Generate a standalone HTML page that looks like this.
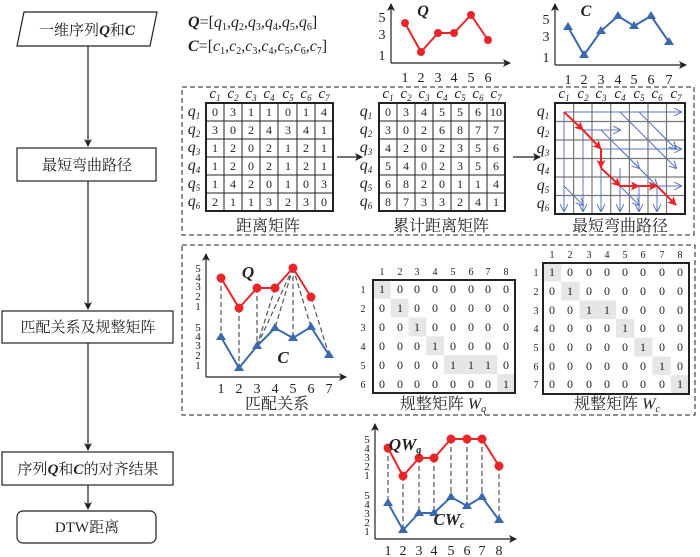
<!DOCTYPE html>
<html><head><meta charset="utf-8"><style>
html,body{margin:0;padding:0;background:#fff}
svg{display:block}
text{font-family:"Liberation Serif","Noto Serif CJK SC",serif;fill:#222}
.n{font-size:12px;text-anchor:middle}
.t{font-size:14px;text-anchor:middle}
.h{font-size:10px;text-anchor:middle}
.cap{font-size:16px;text-anchor:middle}
.fl{font-size:15px;text-anchor:middle}
.it{font-style:italic}
.b{font-weight:bold;font-style:italic}
</style></head><body>
<svg width="700" height="557" viewBox="0 0 700 557" xmlns="http://www.w3.org/2000/svg">
<defs>
<marker id="ak" markerWidth="8" markerHeight="8" refX="7" refY="4" orient="auto" markerUnits="userSpaceOnUse"><path d="M0,0 L8,4 L0,8 L2,4z" fill="#222"/></marker>
<marker id="ab" markerWidth="8" markerHeight="8" refX="7" refY="4" orient="auto" markerUnits="userSpaceOnUse"><path d="M0,0 L8,4 L0,8" fill="none" stroke="#5b74c0" stroke-width="1"/></marker>
<marker id="ar" markerWidth="9" markerHeight="9" refX="8" refY="4.5" orient="auto" markerUnits="userSpaceOnUse"><path d="M0,0 L9,4.5 L0,9 L2,4.5z" fill="#e8262a"/></marker>
</defs>

<!-- flowchart -->
<g stroke="#222" stroke-width="1.2" fill="#fff">
<line x1="88" y1="46" x2="88" y2="146" marker-end="url(#ak)"/>
<line x1="88" y1="181" x2="88" y2="309" marker-end="url(#ak)"/>
<line x1="88" y1="343" x2="88" y2="450" marker-end="url(#ak)"/>
<line x1="88" y1="485" x2="88" y2="509" marker-end="url(#ak)"/>
<polygon points="24,12 157,12 150,46 17,46"/>
<rect x="17" y="148" width="139" height="33"/>
<rect x="2" y="311" width="171" height="32"/>
<rect x="2" y="452" width="171" height="33"/>
<rect x="17" y="511" width="139" height="32" rx="6"/>
</g>
<text class="fl" x="87" y="35">一维序列<tspan class="b">Q</tspan>和<tspan class="b">C</tspan></text>
<text class="fl" x="87" y="170">最短弯曲路径</text>
<text class="fl" x="88" y="332">匹配关系及规整矩阵</text>
<text class="fl" x="88" y="474">序列<tspan class="b">Q</tspan>和<tspan class="b">C</tspan>的对齐结果</text>
<text class="fl" x="87" y="532">DTW距离</text>

<!-- dashed boxes -->
<g fill="none" stroke="#222" stroke-width="1" stroke-dasharray="5,3">
<rect x="182" y="87" width="512" height="148"/>
<rect x="182" y="245" width="513" height="170"/>
</g>

<!-- top formulas -->
<text x="188" y="27" style="font-size:16px"><tspan class="b">Q</tspan>=[<tspan class="it">q</tspan><tspan font-size="10" dy="3">1</tspan><tspan dy="-3">,</tspan><tspan class="it">q</tspan><tspan font-size="10" dy="3">2</tspan><tspan dy="-3">,</tspan><tspan class="it">q</tspan><tspan font-size="10" dy="3">3</tspan><tspan dy="-3">,</tspan><tspan class="it">q</tspan><tspan font-size="10" dy="3">4</tspan><tspan dy="-3">,</tspan><tspan class="it">q</tspan><tspan font-size="10" dy="3">5</tspan><tspan dy="-3">,</tspan><tspan class="it">q</tspan><tspan font-size="10" dy="3">6</tspan><tspan dy="-3">]</tspan></text>
<text x="188" y="51" style="font-size:16px"><tspan class="b">C</tspan>=[<tspan class="it">c</tspan><tspan font-size="10" dy="3">1</tspan><tspan dy="-3">,</tspan><tspan class="it">c</tspan><tspan font-size="10" dy="3">2</tspan><tspan dy="-3">,</tspan><tspan class="it">c</tspan><tspan font-size="10" dy="3">3</tspan><tspan dy="-3">,</tspan><tspan class="it">c</tspan><tspan font-size="10" dy="3">4</tspan><tspan dy="-3">,</tspan><tspan class="it">c</tspan><tspan font-size="10" dy="3">5</tspan><tspan dy="-3">,</tspan><tspan class="it">c</tspan><tspan font-size="10" dy="3">6</tspan><tspan dy="-3">,</tspan><tspan class="it">c</tspan><tspan font-size="10" dy="3">7</tspan><tspan dy="-3">]</tspan></text>

<!-- Q chart -->
<g stroke="#222" stroke-width="1.2" fill="none">
<line x1="391" y1="63" x2="391" y2="4" marker-end="url(#ak)"/>
<line x1="391" y1="63" x2="510" y2="63" marker-end="url(#ak)"/>
<line x1="555" y1="65" x2="555" y2="4" marker-end="url(#ak)"/>
<line x1="555" y1="65" x2="686" y2="65" marker-end="url(#ak)"/>
</g>
<g>
<text x="382" y="22" class="t">5</text><text x="382" y="39" class="t">3</text><text x="382" y="60" class="t">1</text>
<text x="405" y="82" class="t">1</text><text x="421" y="82" class="t">2</text><text x="438" y="82" class="t">3</text><text x="454" y="82" class="t">4</text><text x="471" y="82" class="t">5</text><text x="488" y="82" class="t">6</text>
<text x="546" y="24" class="t">5</text><text x="546" y="41" class="t">3</text><text x="546" y="62" class="t">1</text>
<text x="568" y="84" class="t">1</text><text x="584" y="84" class="t">2</text><text x="601" y="84" class="t">3</text><text x="618" y="84" class="t">4</text><text x="634" y="84" class="t">5</text><text x="651" y="84" class="t">6</text><text x="669" y="84" class="t">7</text>
</g>
<text x="423" y="16" class="b" style="font-size:16px;text-anchor:middle">Q</text>
<text x="586" y="16" class="b" style="font-size:16px;text-anchor:middle">C</text>
<polyline points="405,23 421,52 438,33 454,33 471,15 488,40" fill="none" stroke="#e8262a" stroke-width="2"/>
<g fill="#e8262a"><circle cx="405" cy="23" r="4"/><circle cx="421" cy="52" r="4"/><circle cx="438" cy="33" r="4"/><circle cx="454" cy="33" r="4"/><circle cx="471" cy="15" r="4"/><circle cx="488" cy="40" r="4"/></g>
<polyline points="568,27 584,55 601,31 618,16 634,26 651,16 669,42" fill="none" stroke="#3a6aac" stroke-width="2"/>
<g fill="#3a6aac"><path d="M568,22 l5,8 h-10z"/><path d="M584,50 l5,8 h-10z"/><path d="M601,26 l5,8 h-10z"/><path d="M618,11 l5,8 h-10z"/><path d="M634,21 l5,8 h-10z"/><path d="M651,11 l5,8 h-10z"/><path d="M669,37 l5,8 h-10z"/></g>

<!-- Matrix 1 -->
<g stroke="#222" stroke-width="1" fill="none">
<rect x="206" y="103" width="127" height="108" stroke-width="2"/>
<path d="M224,103V211M242,103V211M260,103V211M278,103V211M297,103V211M315,103V211M206,121H333M206,139H333M206,157H333M206,175H333M206,193H333"/>
<rect x="379" y="103" width="126" height="108" stroke-width="2"/>
<path d="M397,103V211M415,103V211M433,103V211M451,103V211M469,103V211M487,103V211M379,121H505M379,139H505M379,157H505M379,175H505M379,193H505"/>
</g>
<g stroke="#777" stroke-width="1.2" fill="none">
<path d="M573.6,103V214M592,103V214M610.7,103V214M629.4,103V214M648,103V214M666.5,103V214M555,121.5H685M555,140H685M555,158.5H685M555,177H685M555,195.5H685"/>
</g>
<rect x="555" y="103" width="130" height="111" stroke="#222" stroke-width="2" fill="none"/>
<line x1="337" y1="157" x2="362" y2="157" stroke="#222" stroke-width="1.2" marker-end="url(#ak)"/>
<line x1="513" y1="157" x2="540" y2="157" stroke="#222" stroke-width="1.2" marker-end="url(#ak)"/>

<g font-size="15" class="it" text-anchor="middle">
<text x="215" y="98">c<tspan font-size="9" dy="3">1</tspan></text><text x="233" y="98">c<tspan font-size="9" dy="3">2</tspan></text><text x="251" y="98">c<tspan font-size="9" dy="3">3</tspan></text><text x="269" y="98">c<tspan font-size="9" dy="3">4</tspan></text><text x="288" y="98">c<tspan font-size="9" dy="3">5</tspan></text><text x="306" y="98">c<tspan font-size="9" dy="3">6</tspan></text><text x="324" y="98">c<tspan font-size="9" dy="3">7</tspan></text>
<text x="388" y="98">c<tspan font-size="9" dy="3">1</tspan></text><text x="406" y="98">c<tspan font-size="9" dy="3">2</tspan></text><text x="424" y="98">c<tspan font-size="9" dy="3">3</tspan></text><text x="442" y="98">c<tspan font-size="9" dy="3">4</tspan></text><text x="460" y="98">c<tspan font-size="9" dy="3">5</tspan></text><text x="478" y="98">c<tspan font-size="9" dy="3">6</tspan></text><text x="496" y="98">c<tspan font-size="9" dy="3">7</tspan></text>
<text x="564" y="98">c<tspan font-size="9" dy="3">1</tspan></text><text x="583" y="98">c<tspan font-size="9" dy="3">2</tspan></text><text x="601" y="98">c<tspan font-size="9" dy="3">3</tspan></text><text x="620" y="98">c<tspan font-size="9" dy="3">4</tspan></text><text x="639" y="98">c<tspan font-size="9" dy="3">5</tspan></text><text x="657" y="98">c<tspan font-size="9" dy="3">6</tspan></text><text x="676" y="98">c<tspan font-size="9" dy="3">7</tspan></text>
</g>
<g font-size="16" class="it" text-anchor="middle">
<text x="194" y="116">q<tspan font-size="9" dy="3">1</tspan></text><text x="194" y="134">q<tspan font-size="9" dy="3">2</tspan></text><text x="194" y="152">q<tspan font-size="9" dy="3">3</tspan></text><text x="194" y="170">q<tspan font-size="9" dy="3">4</tspan></text><text x="194" y="188">q<tspan font-size="9" dy="3">5</tspan></text><text x="194" y="206">q<tspan font-size="9" dy="3">6</tspan></text>
<text x="366" y="116">q<tspan font-size="9" dy="3">1</tspan></text><text x="366" y="134">q<tspan font-size="9" dy="3">2</tspan></text><text x="366" y="152">q<tspan font-size="9" dy="3">3</tspan></text><text x="366" y="170">q<tspan font-size="9" dy="3">4</tspan></text><text x="366" y="188">q<tspan font-size="9" dy="3">5</tspan></text><text x="366" y="206">q<tspan font-size="9" dy="3">6</tspan></text>
<text x="543" y="116">q<tspan font-size="9" dy="3">1</tspan></text><text x="543" y="134">q<tspan font-size="9" dy="3">2</tspan></text><text x="543" y="153">q<tspan font-size="9" dy="3">3</tspan></text><text x="543" y="171">q<tspan font-size="9" dy="3">4</tspan></text><text x="543" y="190">q<tspan font-size="9" dy="3">5</tspan></text><text x="543" y="208">q<tspan font-size="9" dy="3">6</tspan></text>
</g>
<g class="n">
<text x="215" y="116">0</text><text x="233" y="116">3</text><text x="251" y="116">1</text><text x="269" y="116">1</text><text x="288" y="116">0</text><text x="306" y="116">1</text><text x="324" y="116">4</text>
<text x="215" y="134">3</text><text x="233" y="134">0</text><text x="251" y="134">2</text><text x="269" y="134">4</text><text x="288" y="134">3</text><text x="306" y="134">4</text><text x="324" y="134">1</text>
<text x="215" y="152">1</text><text x="233" y="152">2</text><text x="251" y="152">0</text><text x="269" y="152">2</text><text x="288" y="152">1</text><text x="306" y="152">2</text><text x="324" y="152">1</text>
<text x="215" y="170">1</text><text x="233" y="170">2</text><text x="251" y="170">0</text><text x="269" y="170">2</text><text x="288" y="170">1</text><text x="306" y="170">2</text><text x="324" y="170">1</text>
<text x="215" y="188">1</text><text x="233" y="188">4</text><text x="251" y="188">2</text><text x="269" y="188">0</text><text x="288" y="188">1</text><text x="306" y="188">0</text><text x="324" y="188">3</text>
<text x="215" y="206">2</text><text x="233" y="206">1</text><text x="251" y="206">1</text><text x="269" y="206">3</text><text x="288" y="206">2</text><text x="306" y="206">3</text><text x="324" y="206">0</text>

<text x="388" y="116">0</text><text x="406" y="116">3</text><text x="424" y="116">4</text><text x="442" y="116">5</text><text x="460" y="116">5</text><text x="478" y="116">6</text><text x="496" y="116">10</text>
<text x="388" y="134">3</text><text x="406" y="134">0</text><text x="424" y="134">2</text><text x="442" y="134">6</text><text x="460" y="134">8</text><text x="478" y="134">7</text><text x="496" y="134">7</text>
<text x="388" y="152">4</text><text x="406" y="152">2</text><text x="424" y="152">0</text><text x="442" y="152">2</text><text x="460" y="152">3</text><text x="478" y="152">5</text><text x="496" y="152">6</text>
<text x="388" y="170">5</text><text x="406" y="170">4</text><text x="424" y="170">0</text><text x="442" y="170">2</text><text x="460" y="170">3</text><text x="478" y="170">5</text><text x="496" y="170">6</text>
<text x="388" y="188">6</text><text x="406" y="188">8</text><text x="424" y="188">2</text><text x="442" y="188">0</text><text x="460" y="188">1</text><text x="478" y="188">1</text><text x="496" y="188">4</text>
<text x="388" y="206">8</text><text x="406" y="206">7</text><text x="424" y="206">3</text><text x="442" y="206">3</text><text x="460" y="206">2</text><text x="478" y="206">4</text><text x="496" y="206">1</text>
</g>
<text class="cap" x="268" y="231">距离矩阵</text>
<text class="cap" x="441" y="231">累计距离矩阵</text>
<text class="cap" x="620" y="231">最短弯曲路径</text>

<!-- blue arrows -->
<g stroke="#5b74c0" stroke-width="1" fill="none" marker-end="url(#ab)">
<line x1="564" y1="112" x2="564" y2="211"/>
<line x1="583" y1="130" x2="583" y2="211"/>
<line x1="601" y1="149" x2="601" y2="211"/>
<line x1="620" y1="168" x2="620" y2="211"/>
<line x1="639" y1="186" x2="639" y2="211"/>
<line x1="657" y1="186" x2="657" y2="211"/>
<line x1="564" y1="112" x2="681" y2="112"/>
<line x1="583" y1="130" x2="620" y2="130"/>
<line x1="601" y1="149" x2="681" y2="149"/>
<line x1="657" y1="186" x2="681" y2="186"/>
<line x1="564" y1="186" x2="583" y2="205"/>
<line x1="620" y1="112" x2="676" y2="168"/>
<line x1="639" y1="112" x2="676" y2="149"/>
<line x1="601" y1="130" x2="639" y2="168"/>
<line x1="620" y1="149" x2="657" y2="186"/>
<line x1="657" y1="130" x2="676" y2="149"/>
<line x1="620" y1="186" x2="639" y2="205"/>
<line x1="639" y1="168" x2="657" y2="186"/>
</g>
<g stroke="#e8262a" stroke-width="2" fill="none" marker-end="url(#ar)">
<line x1="564" y1="112" x2="583" y2="130"/>
<line x1="583" y1="130" x2="601" y2="149"/>
<line x1="601" y1="149" x2="601" y2="168"/>
<line x1="601" y1="168" x2="620" y2="186"/>
<line x1="620" y1="186" x2="639" y2="186"/>
<line x1="639" y1="186" x2="657" y2="186"/>
<line x1="657" y1="186" x2="676" y2="205"/>
</g>

<!-- match chart -->
<g stroke="#222" stroke-width="1.2" fill="none">
<line x1="206" y1="377" x2="206" y2="254" marker-end="url(#ak)"/>
<line x1="206" y1="377" x2="346" y2="377" marker-end="url(#ak)"/>
<line x1="375" y1="539" x2="375" y2="424" marker-end="url(#ak)"/>
<line x1="375" y1="539" x2="516" y2="539" marker-end="url(#ak)"/>
</g>
<g font-size="11" text-anchor="middle">
<text x="198" y="272">5</text><text x="198" y="281">4</text><text x="198" y="290">3</text><text x="198" y="300">2</text><text x="198" y="310">1</text>
<text x="198" y="331">5</text><text x="198" y="340">4</text><text x="198" y="349">3</text><text x="198" y="359">2</text><text x="198" y="369">1</text>
<text x="367" y="443">5</text><text x="367" y="452">4</text><text x="367" y="461">3</text><text x="367" y="470">2</text><text x="367" y="479">1</text>
<text x="367" y="499">5</text><text x="367" y="508">4</text><text x="367" y="517">3</text><text x="367" y="526">2</text><text x="367" y="535">1</text>
</g>
<g font-size="14" text-anchor="middle">
<text x="221" y="393">1</text><text x="239" y="393">2</text><text x="257" y="393">3</text><text x="275" y="393">4</text><text x="293" y="393">5</text><text x="311" y="393">6</text><text x="329" y="393">7</text>
<text x="388" y="555">1</text><text x="403" y="555">2</text><text x="419" y="555">3</text><text x="434" y="555">4</text><text x="451" y="555">5</text><text x="467" y="555">6</text><text x="482" y="555">7</text><text x="499" y="555">8</text>
</g>
<g stroke="#555" stroke-width="1.2" stroke-dasharray="5,3">
<line x1="221" y1="278" x2="221" y2="337"/><line x1="239" y1="308" x2="239" y2="368"/><line x1="257" y1="288" x2="257" y2="346"/><line x1="275" y1="288" x2="257" y2="346"/><line x1="293" y1="268" x2="257" y2="346"/><line x1="293" y1="268" x2="275" y2="328"/><line x1="293" y1="268" x2="293" y2="338"/><line x1="293" y1="268" x2="311" y2="327"/><line x1="311" y1="297" x2="329" y2="355"/>
<line x1="388" y1="448" x2="388" y2="503"/><line x1="403" y1="476" x2="403" y2="530"/><line x1="419" y1="458" x2="419" y2="513"/><line x1="434" y1="458" x2="434" y2="513"/><line x1="451" y1="439" x2="451" y2="497"/><line x1="467" y1="439" x2="467" y2="506"/><line x1="482" y1="439" x2="482" y2="497"/><line x1="499" y1="466" x2="499" y2="520"/>
</g>
<polyline points="221,278 239,308 257,288 275,288 293,268 311,297" fill="none" stroke="#e8262a" stroke-width="2"/>
<g fill="#e8262a"><circle cx="221" cy="278" r="4.5"/><circle cx="239" cy="308" r="4.5"/><circle cx="257" cy="288" r="4.5"/><circle cx="275" cy="288" r="4.5"/><circle cx="293" cy="268" r="4.5"/><circle cx="311" cy="297" r="4.5"/></g>
<polyline points="221,337 239,368 257,346 275,328 293,338 311,327 329,355" fill="none" stroke="#3a6aac" stroke-width="2"/>
<g fill="#3a6aac"><path d="M221,332 l5,8 h-10z"/><path d="M239,363 l5,8 h-10z"/><path d="M257,341 l5,8 h-10z"/><path d="M275,323 l5,8 h-10z"/><path d="M293,333 l5,8 h-10z"/><path d="M311,322 l5,8 h-10z"/><path d="M329,350 l5,8 h-10z"/></g>
<text x="248" y="278" class="b" style="font-size:17px;text-anchor:middle">Q</text>
<text x="283" y="363" class="b" style="font-size:17px;text-anchor:middle">C</text>
<text class="cap" x="277" y="409">匹配关系</text>

<!-- bottom chart -->
<polyline points="388,448 403,476 419,458 434,458 451,439 467,439 482,439 499,466" fill="none" stroke="#e8262a" stroke-width="2"/>
<g fill="#e8262a"><circle cx="388" cy="448" r="4.5"/><circle cx="403" cy="476" r="4.5"/><circle cx="419" cy="458" r="4.5"/><circle cx="434" cy="458" r="4.5"/><circle cx="451" cy="439" r="4.5"/><circle cx="467" cy="439" r="4.5"/><circle cx="482" cy="439" r="4.5"/><circle cx="499" cy="466" r="4.5"/></g>
<polyline points="388,503 403,530 419,513 434,513 451,497 467,506 482,497 499,520" fill="none" stroke="#3a6aac" stroke-width="2"/>
<g fill="#3a6aac"><path d="M388,498 l5,8 h-10z"/><path d="M403,525 l5,8 h-10z"/><path d="M419,508 l5,8 h-10z"/><path d="M434,508 l5,8 h-10z"/><path d="M451,492 l5,8 h-10z"/><path d="M467,501 l5,8 h-10z"/><path d="M482,492 l5,8 h-10z"/><path d="M499,515 l5,8 h-10z"/></g>
<text x="405" y="450" class="b" style="font-size:17px;text-anchor:middle">QW<tspan font-size="10" dy="3">q</tspan></text>
<text x="449" y="525" class="b" style="font-size:17px;text-anchor:middle">CW<tspan font-size="10" dy="3">c</tspan></text>

<!-- Wq -->
<g fill="#e6e6e6">
<rect x="373" y="280" width="17.75" height="18.8"/><rect x="390.75" y="298.8" width="17.75" height="18.8"/><rect x="408.5" y="317.6" width="17.75" height="18.8"/><rect x="426.25" y="336.4" width="17.75" height="18.8"/><rect x="444" y="355.2" width="53.25" height="18.8"/><rect x="497.25" y="374" width="17.75" height="18.8"/>
<rect x="543" y="263" width="18.25" height="18.7"/><rect x="561.25" y="281.7" width="18.25" height="18.7"/><rect x="579.5" y="300.4" width="36.5" height="18.7"/><rect x="616" y="319.1" width="18.25" height="18.7"/><rect x="634.25" y="337.8" width="18.25" height="18.7"/><rect x="652.5" y="356.5" width="18.25" height="18.7"/><rect x="670.75" y="375.2" width="18.25" height="18.7"/>
</g>
<rect x="373" y="280" width="142" height="113" fill="none" stroke="#222" stroke-width="2"/>
<rect x="543" y="263" width="146" height="131" fill="none" stroke="#222" stroke-width="2"/>
<g class="h">
<text x="382" y="275">1</text><text x="400" y="275">2</text><text x="417" y="275">3</text><text x="435" y="275">4</text><text x="453" y="275">5</text><text x="471" y="275">6</text><text x="488" y="275">7</text><text x="506" y="275">8</text>
<text x="363" y="293">1</text><text x="363" y="312">2</text><text x="363" y="331">3</text><text x="363" y="350">4</text><text x="363" y="369">5</text><text x="363" y="388">6</text>
<text x="552" y="258">1</text><text x="570" y="258">2</text><text x="589" y="258">3</text><text x="607" y="258">4</text><text x="625" y="258">5</text><text x="643" y="258">6</text><text x="662" y="258">7</text><text x="680" y="258">8</text>
<text x="536" y="276">1</text><text x="536" y="295">2</text><text x="536" y="314">3</text><text x="536" y="332">4</text><text x="536" y="351">5</text><text x="536" y="370">6</text><text x="536" y="388">7</text>
</g>
<g class="n">
<text x="382" y="293">1</text><text x="400" y="293">0</text><text x="417" y="293">0</text><text x="435" y="293">0</text><text x="453" y="293">0</text><text x="471" y="293">0</text><text x="488" y="293">0</text><text x="506" y="293">0</text>
<text x="382" y="312">0</text><text x="400" y="312">1</text><text x="417" y="312">0</text><text x="435" y="312">0</text><text x="453" y="312">0</text><text x="471" y="312">0</text><text x="488" y="312">0</text><text x="506" y="312">0</text>
<text x="382" y="331">0</text><text x="400" y="331">0</text><text x="417" y="331">1</text><text x="435" y="331">0</text><text x="453" y="331">0</text><text x="471" y="331">0</text><text x="488" y="331">0</text><text x="506" y="331">0</text>
<text x="382" y="350">0</text><text x="400" y="350">0</text><text x="417" y="350">0</text><text x="435" y="350">1</text><text x="453" y="350">0</text><text x="471" y="350">0</text><text x="488" y="350">0</text><text x="506" y="350">0</text>
<text x="382" y="369">0</text><text x="400" y="369">0</text><text x="417" y="369">0</text><text x="435" y="369">0</text><text x="453" y="369">1</text><text x="471" y="369">1</text><text x="488" y="369">1</text><text x="506" y="369">0</text>
<text x="382" y="388">0</text><text x="400" y="388">0</text><text x="417" y="388">0</text><text x="435" y="388">0</text><text x="453" y="388">0</text><text x="471" y="388">0</text><text x="488" y="388">0</text><text x="506" y="388">1</text>

<text x="552" y="276">1</text><text x="570" y="276">0</text><text x="589" y="276">0</text><text x="607" y="276">0</text><text x="625" y="276">0</text><text x="643" y="276">0</text><text x="662" y="276">0</text><text x="680" y="276">0</text>
<text x="552" y="295">0</text><text x="570" y="295">1</text><text x="589" y="295">0</text><text x="607" y="295">0</text><text x="625" y="295">0</text><text x="643" y="295">0</text><text x="662" y="295">0</text><text x="680" y="295">0</text>
<text x="552" y="314">0</text><text x="570" y="314">0</text><text x="589" y="314">1</text><text x="607" y="314">1</text><text x="625" y="314">0</text><text x="643" y="314">0</text><text x="662" y="314">0</text><text x="680" y="314">0</text>
<text x="552" y="332">0</text><text x="570" y="332">0</text><text x="589" y="332">0</text><text x="607" y="332">0</text><text x="625" y="332">1</text><text x="643" y="332">0</text><text x="662" y="332">0</text><text x="680" y="332">0</text>
<text x="552" y="351">0</text><text x="570" y="351">0</text><text x="589" y="351">0</text><text x="607" y="351">0</text><text x="625" y="351">0</text><text x="643" y="351">1</text><text x="662" y="351">0</text><text x="680" y="351">0</text>
<text x="552" y="370">0</text><text x="570" y="370">0</text><text x="589" y="370">0</text><text x="607" y="370">0</text><text x="625" y="370">0</text><text x="643" y="370">0</text><text x="662" y="370">1</text><text x="680" y="370">0</text>
<text x="552" y="388">0</text><text x="570" y="388">0</text><text x="589" y="388">0</text><text x="607" y="388">0</text><text x="625" y="388">0</text><text x="643" y="388">0</text><text x="662" y="388">0</text><text x="680" y="388">1</text>
</g>
<text class="cap" x="443" y="409">规整矩阵 <tspan class="it">W</tspan><tspan class="it" font-size="10" dy="3">q</tspan></text>
<text class="cap" x="617" y="409">规整矩阵 <tspan class="it">W</tspan><tspan class="it" font-size="10" dy="3">c</tspan></text>
</svg>
</body></html>
